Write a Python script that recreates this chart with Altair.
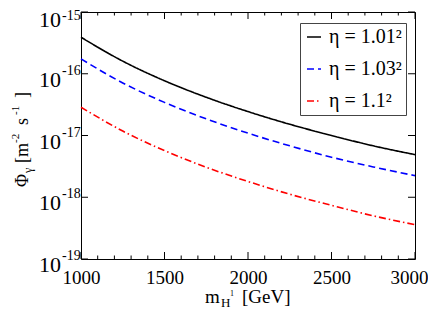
import altair as alt
import pandas as pd

# ---- data ----
mass = [1000, 1250, 1500, 1750, 2000, 2250, 2500, 2750, 3000]
phi_101 = [3.9e-16, 1.6e-16, 7.7e-17, 4.16e-17, 2.44e-17, 1.52e-17, 1.0e-17, 6.8e-18, 4.9e-18]
phi_103 = [1.74e-16, 7.1e-17, 3.44e-17, 1.86e-17, 1.09e-17, 6.8e-18, 4.45e-18, 3.1e-18, 2.24e-18]
phi_110 = [2.87e-17, 1.18e-17, 5.7e-18, 3.06e-18, 1.8e-18, 1.12e-18, 7.4e-19, 5.0e-19, 3.6e-19]
series = ["η = 1.01²", "η = 1.03²", "η = 1.1²"]
colors = ["#000000", "#0000ff", "#ff0000"]
dashes = [[1, 0], [7, 4], [7, 3, 1.5, 3]]

x_major = [1000, 1500, 2000, 2500, 3000]
x_minor = [v for v in range(1100, 3000, 100) if v not in x_major]
y_exponents = [-15, -16, -17, -18, -19]

W, H = 334, 247
FONT = "Liberation Serif, Times New Roman, Times, DejaVu Serif, serif"

rows = []
for name, vals in zip(series, [phi_101, phi_103, phi_110]):
    for m, p in zip(mass, vals):
        rows.append({"m": m, "phi": p, "series": name})
df = pd.DataFrame(rows)

xscale = alt.Scale(domain=[1000, 3000], nice=False, zero=False)
yscale = alt.Scale(type="log", domain=[1e-19, 1e-15], nice=False)

lines = alt.Chart(df).mark_line(strokeWidth=1.6, interpolate="monotone").encode(
    x=alt.X("m:Q", scale=xscale,
            axis=alt.Axis(values=x_major, format="d", ticks=False, tickSize=0, domain=False,
                          grid=False, title=None, labelFont=FONT, labelFontSize=19,
                          labelColor="black", labelPadding=9, labelFlush=False,
                          labelOffset={"expr": "datum.value == 3000 ? -6 : 0"})),
    y=alt.Y("phi:Q", scale=yscale, axis=None),
    color=alt.Color("series:N", scale=alt.Scale(domain=series, range=colors),
                    legend=alt.Legend(title=None)),
    strokeDash=alt.StrokeDash("series:N", scale=alt.Scale(domain=series, range=dashes),
                              legend=alt.Legend(title=None)),
)

xmaj = pd.DataFrame({"v": x_major})
xmin = pd.DataFrame({"v": x_minor})
ydec = pd.DataFrame({"e": y_exponents, "v": [10.0 ** e for e in y_exponents],
                     "lab": [str(e) for e in y_exponents]})
ydec_top = ydec[ydec["e"] == -15]
ydec_rest = ydec[ydec["e"] != -15]

def xticks(d, length):
    bottom = alt.Chart(d).mark_rule(color="black", strokeWidth=1).encode(
        x=alt.X("v:Q", scale=xscale), y=alt.value(H), y2=alt.value(H - length))
    top = alt.Chart(d).mark_rule(color="black", strokeWidth=1).encode(
        x=alt.X("v:Q", scale=xscale), y=alt.value(0), y2=alt.value(length))
    return bottom + top

yt_left = alt.Chart(ydec).mark_rule(color="black", strokeWidth=1).encode(
    y=alt.Y("v:Q", scale=yscale), x=alt.value(0), x2=alt.value(7))
yt_right = alt.Chart(ydec).mark_rule(color="black", strokeWidth=1).encode(
    y=alt.Y("v:Q", scale=yscale), x=alt.value(W), x2=alt.value(W - 7))

def ylabels(d, dy_base, dy_exp):
    base = alt.Chart(d).mark_text(align="right", baseline="alphabetic", font=FONT,
                                  fontSize=22, dy=dy_base, color="black").encode(
        y=alt.Y("v:Q", scale=yscale), x=alt.value(-20), text=alt.value("10"))
    exp = alt.Chart(d).mark_text(align="left", baseline="alphabetic", font=FONT,
                                 fontSize=14, dy=dy_exp, color="black").encode(
        y=alt.Y("v:Q", scale=yscale), x=alt.value(-19), text="lab:N")
    return base + exp

def label(text, x, y, size, angle=0):
    return alt.Chart(pd.DataFrame({"t": [text]})).mark_text(
        align="left", baseline="alphabetic", font=FONT, fontSize=size, angle=angle,
        color="black").encode(x=alt.value(x), y=alt.value(y), text="t:N")

xtitle = (label("m", 124, 291, 19) + label("H", 140, 295, 13) +
          label("1", 149, 284, 8) + label("[GeV]", 161, 291, 19))

ytitle = (label("Φ", -53, 175, 18, 270) + label("γ", -49, 161, 12, 270) +
          label("[m", -53, 151, 18, 270) + label("-2", -62, 131, 11, 270) +
          label("s", -53, 113, 18, 270) + label("-1", -62, 103, 11, 270) +
          label("]", -53, 86, 18, 270))

chart = alt.layer(
    lines, xticks(xmaj, 7), xticks(xmin, 3.5), yt_left, yt_right,
    ylabels(ydec_rest, 13, 1), ylabels(ydec_top, 15, 8), xtitle, ytitle
).properties(
    width=W, height=H,
    autosize=alt.AutoSizeParams(type="none"),
    padding={"left": 73, "top": 4, "right": 13, "bottom": 56},
).configure_view(
    stroke="black", strokeWidth=1
).configure_legend(
    orient="none", legendX=219, legendY=11, strokeColor="#444444", fillColor="white",
    padding=4, rowPadding=12, symbolType="stroke", symbolSize=196, symbolStrokeWidth=1.6,
    labelFont=FONT, labelFontSize=20, labelColor="black", labelLimit=0, cornerRadius=0,
    labelOffset=5,
)

chart.save("out.html", embed_options={"renderer": "svg", "actions": False})
